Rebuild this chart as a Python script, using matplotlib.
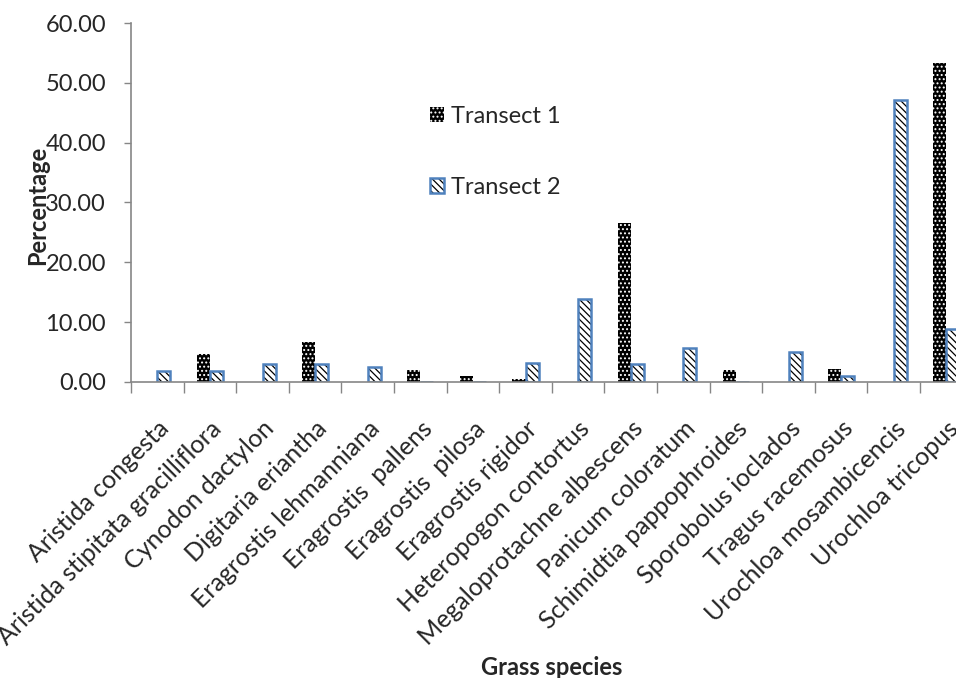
import matplotlib.pyplot as plt
import numpy as np
from matplotlib.patches import Patch
from matplotlib.legend_handler import HandlerTuple
from matplotlib.transforms import ScaledTranslation

plt.rcParams['font.family'] = ['Lato', 'DejaVu Sans']
plt.rcParams['hatch.linewidth'] = 0.9

species = ["Aristida congesta", "Aristida stipitata gracilliflora", "Cynodon dactylon",
           "Digitaria eriantha", "Eragrostis lehmanniana", "Eragrostis  pallens",
           "Eragrostis  pilosa", "Eragrostis rigidor", "Heteropogon contortus",
           "Megaloprotachne albescens", "Panicum coloratum", "Schimidtia pappophroides",
           "Sporobolus ioclados", "Tragus racemosus", "Urochloa mosambicencis",
           "Urochloa tricopus"]
transect1 = [0, 4.6, 0, 6.7, 0, 2.0, 1.05, 0.5, 0, 26.6, 0, 2.0, 0, 2.2, 0, 53.3]
transect2 = [1.9, 1.8, 2.95, 2.95, 2.5, 0, 0, 3.2, 13.8, 2.95, 5.7, 0, 5.0, 1.05, 47.1, 8.9]

text_col = '#262626'
axis_col = '#868686'
blue = '#4F81BD'
fs = 17

fig = plt.figure(figsize=(9.56, 6.78), dpi=100)
ax = fig.add_axes([131/956, 1-382/678, 841.6/956, 359/678])

x = np.arange(len(species))
w = 0.25
ax.bar(x - w/2, transect1, w, facecolor='black', edgecolor='white', linewidth=0, hatch='....')
# hatched bars, then blue outline on top
ax.bar(x + w/2, transect2, w, facecolor='white', edgecolor='black', linewidth=0, hatch='\\\\\\\\\\')
ax.bar(x + w/2, transect2, w, facecolor='none', edgecolor=blue, linewidth=1.8)

ax.set_xlim(-0.5, len(species) - 0.5)
ax.set_ylim(0, 60)
ax.set_yticks(np.arange(0, 61, 10))
ax.set_yticklabels(["%.2f" % v for v in np.arange(0, 61, 10)], fontsize=fs, color=text_col)

ax.set_xticks(x)
ax.set_xticklabels(species, rotation=45, ha='right', rotation_mode='anchor',
                   fontsize=18, color=text_col)
shift = ScaledTranslation(-9/100, 0, fig.dpi_scale_trans)
for lab in ax.get_xticklabels():
    lab.set_transform(lab.get_transform() + shift)
ax.set_xticks(np.arange(-0.5, len(species), 1), minor=True)
ax.tick_params(axis='x', which='major', length=0, pad=25)
ax.tick_params(axis='x', which='minor', length=8, color=axis_col, width=1)
ax.tick_params(axis='y', length=5, color=axis_col, width=1, pad=13)

for s in ['top', 'right']:
    ax.spines[s].set_visible(False)
for s in ['left', 'bottom']:
    ax.spines[s].set_color(axis_col)
    ax.spines[s].set_linewidth(1.2)

ax.set_ylabel("Percentage", fontsize=fs, fontweight='bold', color=text_col)
ax.yaxis.set_label_coords(-0.097, 0.493)
ax.set_xlabel("Grass species", fontsize=fs, fontweight='bold', color=text_col)
ax.xaxis.set_label_coords(0.5, -(656 - 382) / 359)

h1 = Patch(facecolor='black', edgecolor='white', linewidth=0, hatch='....')
h2a = Patch(facecolor='white', edgecolor='black', linewidth=0, hatch='\\\\\\\\\\')
h2b = Patch(facecolor='none', edgecolor=blue, linewidth=1.8)
leg = ax.legend([h1, (h2a, h2b)], ["Transect 1", "Transect 2"],
                handler_map={tuple: HandlerTuple(ndivide=1, pad=0)},
                loc='upper left', bbox_to_anchor=(430/956, 1-106/678),
                bbox_transform=fig.transFigure, frameon=False, fontsize=fs,
                handlelength=0.6, handleheight=0.6, handletextpad=0.3,
                labelspacing=2.1, borderpad=0, borderaxespad=0)
for t in leg.get_texts():
    t.set_color(text_col)

fig.savefig('out.png', dpi=100)
